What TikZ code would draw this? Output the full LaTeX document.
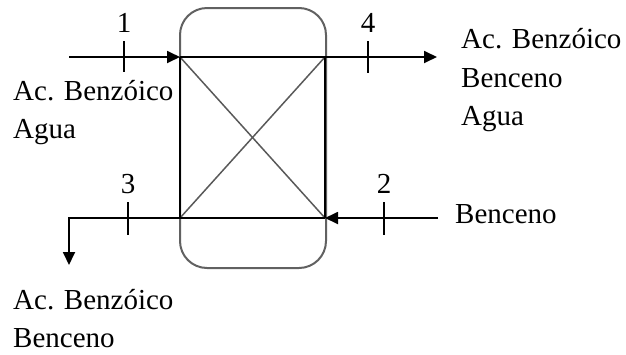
\documentclass[tikz,border=0pt]{standalone}
\usepackage{fontspec}
\setmainfont{Liberation Serif}
\usetikzlibrary{arrows.meta}
\begin{document}
\begin{tikzpicture}[x=1pt,y=-1pt,
  lbl/.style={anchor=base west,inner sep=0pt,font=\fontsize{29}{38}\selectfont},
  num/.style={anchor=base,inner sep=0pt,font=\fontsize{29}{38}\selectfont},
  flow/.style={line width=1.8pt,-{Triangle[length=13pt,width=12pt]}},
  plain/.style={line width=1.8pt},
  tick/.style={line width=1.6pt},
  column/.style={draw=black!62,line width=2pt,rounded corners=27pt,minimum width=146pt,minimum height=260pt,inner sep=0pt},
  packing/.style={draw=black!65,line width=1.5pt}]
\useasboundingbox (0,0) rectangle (626,354);

% column shell
\node[column] (col) at (253,138) {};

% packed section corners
\coordinate (tl) at (180,57);
\coordinate (tr) at (325,57);
\coordinate (bl) at (180,218);
\coordinate (br) at (325,218);

% packing cross
\draw[packing] (tl) -- (br);
\draw[packing] (tr) -- (bl);
\draw[line width=2.4pt] (tl) -- (bl);
\draw[line width=2.4pt] (tr) -- (br);

% stream 1: feed
\coordinate (in1) at (69,57);
\draw[flow] (in1) -- (tl);
\draw[plain] (tl) -- (tr);
\draw[tick] (124,41) -- (124,72);
\node[num] (n1) at (124,32) {1};
\node[lbl] (a1) at (13,100) {Ac. Benzóico};
\node[lbl] (a2) at (13,138) {Agua};

% stream 4: top outlet
\coordinate (out4) at (437,57);
\draw[flow] (tr) -- (out4);
\draw[tick] (368,41) -- (368,73);
\node[num] (n4) at (368,32) {4};
\node[lbl] (b1) at (461,48) {Ac. Benzóico};
\node[lbl] (b2) at (461,87) {Benceno};
\node[lbl] (b3) at (461,125) {Agua};

% stream 2: solvent
\coordinate (in2) at (438,218);
\draw[flow] (in2) -- (br);
\draw[plain] (br) -- (bl);
\draw[tick] (384,202) -- (384,235);
\node[num] (n2) at (384,193) {2};
\node[lbl] (c1) at (455,223) {Benceno};

% stream 3: bottom outlet
\coordinate (bend3) at (69,218);
\coordinate (out3) at (69,265);
\draw[flow] (bl) -- (bend3) -- (out3);
\draw[tick] (128,202) -- (128,235);
\node[num] (n3) at (128,193) {3};
\node[lbl] (d1) at (13,309) {Ac. Benzóico};
\node[lbl] (d2) at (13,347) {Benceno};
\end{tikzpicture}
\end{document}
